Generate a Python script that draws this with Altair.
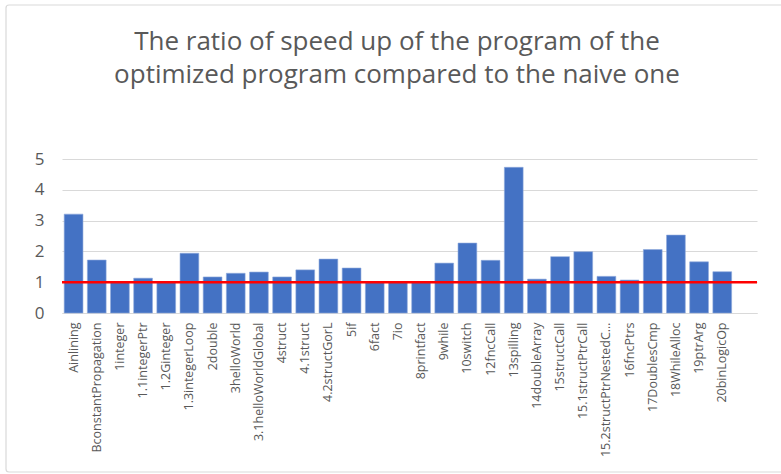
import altair as alt
import pandas as pd

programs = [
    "Ainlining", "BconstantPropagation", "1integer", "1.1integerPtr", "1.2Ginteger",
    "1.3integerLoop", "2double", "3helloWorld", "3.1helloWorldGlobal", "4struct",
    "4.1struct", "4.2structGorL", "5if", "6fact", "7io", "8printfact", "9while",
    "10switch", "12fncCall", "13spilling", "14doubleArray", "15structCall",
    "15.1structPtrCall", "15.2structPtrNestedC…", "16fncPtrs", "17DoublesCmp",
    "18WhileAlloc", "19ptrArg", "20binLogicOp",
]
speedup = [
    3.21, 1.72, 1.0, 1.13, 1.0,
    1.94, 1.17, 1.29, 1.33, 1.17,
    1.40, 1.75, 1.46, 1.0, 0.99, 1.0, 1.62,
    2.27, 1.71, 4.73, 1.10, 1.83,
    1.99, 1.19, 1.07, 2.06,
    2.53, 1.66, 1.34,
]
baseline_value = [1.0]
y_ticks = [0, 1, 2, 3, 4, 5]
title_lines = ["The ratio of speed up of the program of the",
               "optimized program compared to the naive one"]
# Excel leaves one empty category slot at the end of the axis
x_domain = programs + [" "]

df = pd.DataFrame({"program": programs, "speedup": speedup})
ref_df = pd.DataFrame({"ref": baseline_value})

FONT = "Open Sans"
GRAY = "#595959"

y_axis = alt.Axis(
    title=None, values=y_ticks, tickCount=6, ticks=False, domain=False,
    labelColor=GRAY, labelFontSize=17, labelFont=FONT, labelPadding=18,
    labelOverlap=False, labelFlush=False,
    gridColor="#d9d9d9", gridWidth=1,
)
y_scale = alt.Scale(domain=[0, 5], nice=False)

x_enc = alt.X(
    "program:N",
    sort=None,
    scale=alt.Scale(domain=x_domain, paddingInner=0.19, paddingOuter=0.095),
    axis=alt.Axis(
        title=None, labelAngle=-90, labelAlign="right", labelBaseline="middle",
        labelPadding=9, ticks=False, domainColor="#d9d9d9", domainWidth=1,
        labelColor=GRAY, labelFontSize=12.5, labelFont=FONT, labelLimit=200,
        grid=False,
    ),
)

bars = alt.Chart(df).mark_bar(color="#4472C4", stroke="#8faadc", strokeWidth=0.6).encode(
    x=x_enc,
    y=alt.Y("speedup:Q", scale=y_scale, axis=y_axis),
)

rule = alt.Chart(ref_df).mark_rule(color="#FF0000", strokeWidth=2.5).encode(
    y=alt.Y("ref:Q", scale=y_scale, axis=y_axis),
    x=alt.value(0),
    x2=alt.value(695),
)

border = alt.Chart(ref_df).mark_rect(
    fill=None, stroke="#d9d9d9", strokeWidth=1.2, cornerRadius=3
).encode(
    x=alt.value(-56), x2=alt.value(740),
    y=alt.value(-154), y2=alt.value(313),
)

title = alt.Chart(ref_df).mark_text(
    text=title_lines, font=FONT, fontSize=26, color=GRAY, align="center",
    baseline="alphabetic", lineHeight=33,
).encode(
    x=alt.value(335),
    y=alt.value(-109),
)

chart = alt.layer(bars, rule, border, title).properties(
    width=695,
    height=154,
    autosize=alt.AutoSizeParams(type="none"),
    padding={"left": 62, "top": 159, "right": 24, "bottom": 161},
).configure_view(stroke=None)

chart.save("out.html", embed_options={"renderer": "svg", "actions": False})
